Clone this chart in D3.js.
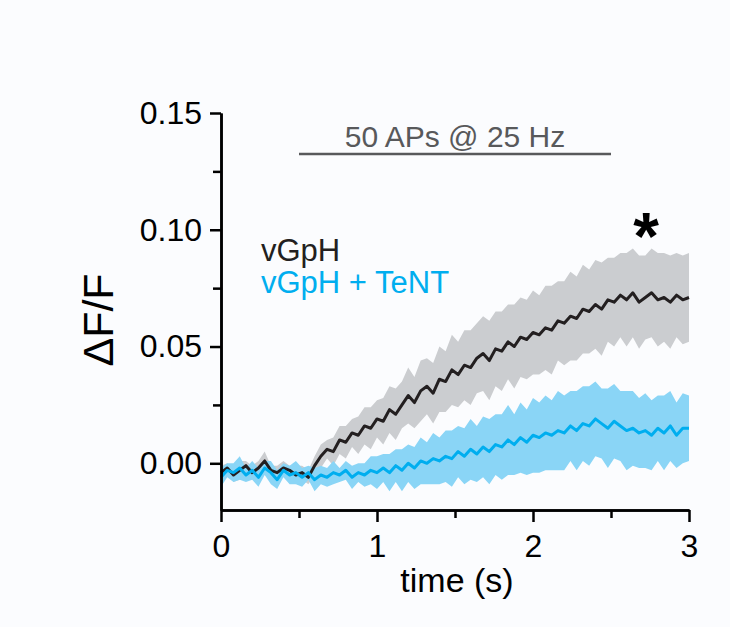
<!DOCTYPE html>
<html>
<head>
<meta charset="utf-8">
<script src="https://cdn.jsdelivr.net/npm/d3@7"></script>
<style>
  body { margin: 0; background: #fbfcfe; }
  svg { display: block; font-family: "Liberation Sans", Arial, sans-serif; }
</style>
</head>
<body>
<svg id="chart"></svg>
<script>
// time points (s)
const time = [0.00,0.04,0.08,0.12,0.16,0.20,0.24,0.28,0.32,0.36,0.40,0.44,0.48,0.52,0.56,0.60,0.64,0.68,0.72,0.76,
  0.80,0.84,0.88,0.92,0.96,1.00,1.04,1.08,1.12,1.16,1.20,1.24,1.28,1.32,1.36,1.40,1.44,1.48,1.52,1.56,
  1.60,1.64,1.68,1.72,1.76,1.80,1.84,1.88,1.92,1.96,2.00,2.04,2.08,2.12,2.16,2.20,2.24,2.28,2.32,2.36,
  2.40,2.44,2.48,2.52,2.56,2.60,2.64,2.68,2.72,2.76,2.80,2.84,2.88,2.92,2.96,3.00];

// vGpH mean and SEM
const ctrlMean = [-0.004,-0.002,-0.005,-0.003,-0.001,-0.004,-0.002,0.001,-0.003,-0.004,-0.002,-0.003,-0.005,-0.004,-0.006,-0.001,0.003,0.006,0.005,0.010,
  0.009,0.013,0.012,0.016,0.015,0.019,0.018,0.023,0.021,0.025,0.029,0.026,0.031,0.033,0.030,0.036,0.035,0.040,0.038,0.042,
  0.041,0.045,0.047,0.044,0.049,0.048,0.052,0.050,0.054,0.053,0.056,0.055,0.058,0.057,0.061,0.060,0.063,0.062,0.066,0.065,
  0.068,0.066,0.070,0.069,0.072,0.070,0.073,0.069,0.071,0.073,0.070,0.071,0.069,0.072,0.070,0.071];
const ctrlSem = [0.003,0.002,0.003,0.004,0.002,0.003,0.003,0.004,0.002,0.003,0.003,0.002,0.004,0.003,0.003,0.004,0.005,0.004,0.006,0.006,
  0.007,0.006,0.008,0.008,0.009,0.008,0.010,0.010,0.011,0.010,0.012,0.011,0.013,0.012,0.013,0.014,0.013,0.015,0.014,0.015,
  0.016,0.015,0.016,0.017,0.016,0.017,0.016,0.018,0.017,0.017,0.018,0.017,0.018,0.019,0.017,0.018,0.019,0.018,0.019,0.018,
  0.019,0.020,0.018,0.019,0.018,0.020,0.019,0.020,0.018,0.019,0.020,0.019,0.020,0.018,0.019,0.019];

// vGpH + TeNT mean and SEM
const tentMean = [-0.006,-0.003,-0.004,-0.002,-0.005,-0.003,-0.006,-0.002,-0.004,-0.007,-0.003,-0.005,-0.004,-0.006,-0.004,-0.007,-0.005,-0.006,-0.004,-0.005,
  -0.003,-0.006,-0.004,-0.005,-0.003,-0.004,-0.002,-0.004,-0.001,-0.003,0.000,-0.002,0.001,0.000,0.002,0.001,0.003,0.002,0.005,0.003,
  0.006,0.004,0.007,0.005,0.008,0.007,0.010,0.008,0.011,0.009,0.012,0.011,0.013,0.012,0.014,0.013,0.016,0.014,0.017,0.016,
  0.019,0.017,0.015,0.018,0.016,0.014,0.015,0.013,0.014,0.012,0.015,0.013,0.016,0.012,0.015,0.015];
const tentSem = [0.004,0.003,0.004,0.005,0.003,0.004,0.004,0.003,0.005,0.004,0.003,0.004,0.005,0.004,0.003,0.005,0.004,0.004,0.005,0.003,
  0.004,0.005,0.004,0.005,0.006,0.007,0.006,0.008,0.007,0.009,0.008,0.009,0.010,0.009,0.011,0.010,0.011,0.012,0.011,0.012,
  0.013,0.012,0.013,0.014,0.013,0.014,0.015,0.013,0.015,0.014,0.016,0.015,0.016,0.015,0.017,0.016,0.015,0.017,0.016,0.017,
  0.016,0.015,0.017,0.016,0.015,0.017,0.016,0.015,0.016,0.015,0.014,0.016,0.015,0.014,0.015,0.014];

const yMajor = [0, 0.05, 0.10, 0.15];
const yMinor = [0.025, 0.075, 0.125];
const xMajor = [0, 1, 2, 3];
const xMinor = [0.5, 1.5, 2.5];
const stim = [0.5, 2.5];

const width = 730, height = 627;
const svg = d3.select("#chart").attr("width", width).attr("height", height);

const x = d3.scaleLinear().domain([0, 3]).range([221, 689]);
const y = d3.scaleLinear().domain([-0.02, 0.15]).range([510, 113]);

const series = [
  { mean: ctrlMean, sem: ctrlSem, line: "#231f20", band: "#cbcdd0" },
  { mean: tentMean, sem: tentSem, line: "#00aeef", band: "#8ad5f6" }
];

const area = s => d3.area()
  .x((d, i) => x(time[i]))
  .y0((d, i) => y(s.mean[i] - s.sem[i]))
  .y1((d, i) => y(s.mean[i] + s.sem[i]));
const line = s => d3.line()
  .x((d, i) => x(time[i]))
  .y((d, i) => y(s.mean[i]));

// bands first, lines on top
series.forEach(s => {
  svg.append("path").datum(s.mean).attr("d", area(s)).attr("fill", s.band);
});
series.forEach(s => {
  svg.append("path").datum(s.mean).attr("d", line(s))
    .attr("fill", "none").attr("stroke", s.line)
    .attr("stroke-width", 3).attr("stroke-linejoin", "round");
});

// axes
const styleAxis = g => {
  g.selectAll("path, line").attr("stroke", "#000").attr("stroke-width", 2.5);
  g.selectAll("text").attr("font-size", 32).attr("fill", "#000")
    .attr("font-family", "'Liberation Sans', Arial, sans-serif");
};

svg.append("g").attr("transform", "translate(221,0)")
  .call(d3.axisLeft(y).tickValues(yMinor).tickSize(8).tickSizeOuter(0).tickFormat(""))
  .call(styleAxis);
svg.append("g").attr("transform", "translate(221,0)")
  .call(d3.axisLeft(y).tickValues(yMajor).tickSize(11).tickSizeOuter(0).tickPadding(8).tickFormat(d3.format(".2f")))
  .call(styleAxis);

svg.append("g").attr("transform", "translate(0,510)")
  .call(d3.axisBottom(x).tickValues(xMinor).tickSize(8).tickSizeOuter(0).tickFormat(""))
  .call(styleAxis);
svg.append("g").attr("transform", "translate(0,510)")
  .call(d3.axisBottom(x).tickValues(xMajor).tickSize(12).tickSizeOuter(0).tickPadding(12).tickFormat(d3.format("d")))
  .call(styleAxis);

// axis titles
svg.append("text")
  .attr("transform", "translate(113,320) rotate(-90)")
  .attr("text-anchor", "middle")
  .attr("font-size", 43)
  .text("ΔF/F");

svg.append("text")
  .attr("x", 457).attr("y", 592)
  .attr("text-anchor", "middle")
  .attr("font-size", 34)
  .text("time (s)");

// stimulus bar
svg.append("line")
  .attr("x1", x(stim[0])).attr("x2", x(stim[1]))
  .attr("y1", 154).attr("y2", 154)
  .attr("stroke", "#58595b").attr("stroke-width", 2.5);
svg.append("text")
  .attr("x", x((stim[0] + stim[1]) / 2)).attr("y", 147)
  .attr("text-anchor", "middle")
  .attr("font-size", 30).attr("fill", "#58595b")
  .text("50 APs @ 25 Hz");

// legend
svg.append("text").attr("x", 261).attr("y", 261)
  .attr("font-size", 31).attr("fill", "#231f20").text("vGpH");
svg.append("text").attr("x", 261).attr("y", 293)
  .attr("font-size", 31).attr("fill", "#00aeef").text("vGpH + TeNT");

// significance
svg.append("text").attr("x", 646).attr("y", 259)
  .attr("text-anchor", "middle")
  .attr("font-size", 66).attr("font-weight", "bold")
  .text("*");
</script>
</body>
</html>
